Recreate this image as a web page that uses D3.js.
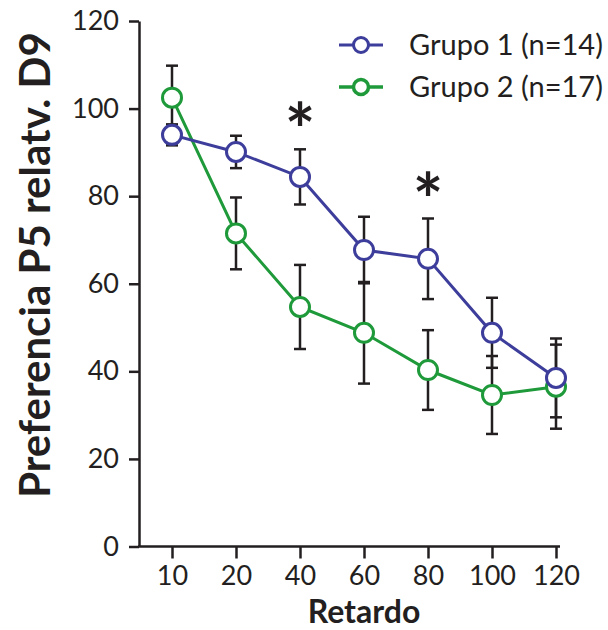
<!DOCTYPE html>
<html>
<head>
<meta charset="utf-8">
<script src="https://cdn.jsdelivr.net/npm/d3@7/dist/d3.min.js"></script>
<style>
  html, body { margin: 0; padding: 0; background: #fff; }
  svg { display: block; }
  text { font-family: Lato, "Open Sans", sans-serif; fill: #231f20; }
</style>
</head>
<body>
<svg id="chart" width="608" height="630"></svg>
<script>
// Delay categories (x axis)
const delays = ["10", "20", "40", "60", "80", "100", "120"];

// Mean preference and SEM for each group
const group1Mean = [94, 90.1, 84.4, 67.7, 65.7, 48.8, 38.5];
const group1Sem  = [2.4, 3.7, 6.3, 7.6, 9.2, 8.0, 9.0];
const group2Mean = [102.5, 71.5, 54.7, 48.8, 40.3, 34.6, 36.5];
const group2Sem  = [7.3, 8.2, 9.6, 11.6, 9.1, 8.9, 9.6];

const groupNames  = ["Grupo 1 (n=14)", "Grupo 2 (n=17)"];
const groupColors = ["#3d3d9b", "#1f9a3a"];

// Delays with a significant difference between groups
const significant = ["40", "80"];

const yTicks = [0, 20, 40, 60, 80, 100, 120];

const svg = d3.select("#chart");

const x = d3.scalePoint().domain(delays).range([172, 556]);
const y = d3.scaleLinear().domain([0, 120]).range([546.5, 21]);

const axisX0 = 139, axisX1 = 560;

// Y axis
const yAxis = svg.append("g")
  .attr("transform", `translate(${axisX0},0)`)
  .call(d3.axisLeft(y).tickValues(yTicks).tickSize(10).tickPadding(10).tickSizeOuter(0));
yAxis.select(".domain").attr("stroke", "#231f20").attr("stroke-width", 2.5);
yAxis.selectAll(".tick line").attr("stroke", "#231f20").attr("stroke-width", 2.5);
yAxis.selectAll(".tick text").attr("font-size", 27).attr("fill", "#231f20")
  .attr("font-family", "Lato, sans-serif");

// X axis
const xAxis = svg.append("g")
  .attr("transform", `translate(0,${y(0)})`)
  .call(d3.axisBottom(x).tickSize(12).tickPadding(7));
xAxis.select(".domain").remove();
xAxis.append("line")
  .attr("x1", axisX0 - 1).attr("x2", axisX1)
  .attr("stroke", "#231f20").attr("stroke-width", 2.5);
xAxis.selectAll(".tick line").attr("stroke", "#231f20").attr("stroke-width", 2.5);
xAxis.selectAll(".tick text").attr("font-size", 27).attr("fill", "#231f20")
  .attr("font-family", "Lato, sans-serif");

// Axis titles
svg.append("text")
  .attr("x", (x(delays[0]) + x(delays[delays.length - 1])) / 2)
  .attr("y", 623)
  .attr("text-anchor", "middle")
  .attr("font-weight", "bold")
  .attr("font-size", 32)
  .text("Retardo");

svg.append("text")
  .attr("transform", "translate(50,265) rotate(-90)")
  .attr("text-anchor", "middle")
  .attr("font-weight", "bold")
  .attr("font-size", 42)
  .text("Preferencia P5 relatv. D9");

const groups = [
  { mean: group1Mean, sem: group1Sem, color: groupColors[0] },
  { mean: group2Mean, sem: group2Sem, color: groupColors[1] }
];

// Error bars (drawn first, under the lines and markers)
const capHalf = 6;
groups.forEach(g => {
  const eb = svg.append("g").attr("stroke", "#231f20").attr("stroke-width", 2.5);
  delays.forEach((d, i) => {
    const cx = x(d);
    const lo = y(g.mean[i] - g.sem[i]);
    const hi = y(g.mean[i] + g.sem[i]);
    eb.append("line").attr("x1", cx).attr("x2", cx).attr("y1", lo).attr("y2", hi);
    eb.append("line").attr("x1", cx - capHalf).attr("x2", cx + capHalf).attr("y1", lo).attr("y2", lo);
    eb.append("line").attr("x1", cx - capHalf).attr("x2", cx + capHalf).attr("y1", hi).attr("y2", hi);
  });
});

// Lines and markers; group 2 drawn first so group 1 sits on top
const line = d3.line().x((d, i) => x(delays[i])).y(d => y(d));
[groups[1], groups[0]].forEach(g => {
  svg.append("path")
    .datum(g.mean)
    .attr("d", line)
    .attr("fill", "none")
    .attr("stroke", g.color)
    .attr("stroke-width", 3);
  svg.append("g").selectAll("circle")
    .data(g.mean)
    .join("circle")
    .attr("cx", (d, i) => x(delays[i]))
    .attr("cy", d => y(d))
    .attr("r", 9.5)
    .attr("fill", "#fff")
    .attr("stroke", g.color)
    .attr("stroke-width", 3);
});

// Significance marks above group 1 error bars
significant.forEach(d => {
  const i = delays.indexOf(d);
  const top = y(group1Mean[i] + group1Sem[i]);
  svg.append("text")
    .attr("x", x(d))
    .attr("y", top + 8)
    .attr("text-anchor", "middle")
    .attr("font-family", "'DejaVu Sans', sans-serif")
    .attr("font-weight", "bold")
    .attr("font-size", 72)
    .text("*");
});

// Legend
const legendY = [45, 87];
groupNames.forEach((name, i) => {
  const lg = svg.append("g").attr("transform", `translate(0,${legendY[i]})`);
  lg.append("line").attr("x1", 339).attr("x2", 383)
    .attr("stroke", groupColors[i]).attr("stroke-width", i === 0 ? 3 : 3.5);
  lg.append("circle").attr("cx", 361).attr("r", 7.5)
    .attr("fill", "#fff").attr("stroke", groupColors[i]).attr("stroke-width", i === 0 ? 3 : 3.5);
  lg.append("text").attr("x", 409).attr("y", 10)
    .attr("font-size", 29)
    .text(name);
});
</script>
</body>
</html>
